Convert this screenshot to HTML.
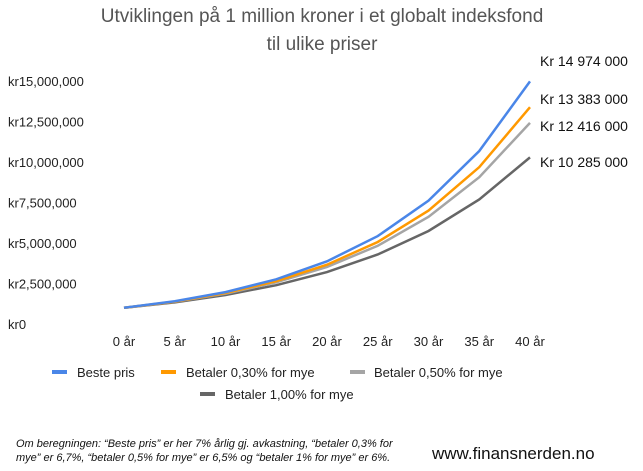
<!DOCTYPE html>
<html><head><meta charset="utf-8"><style>
body{margin:0;background:#fff;width:643px;height:466px;overflow:hidden;font-family:"Liberation Sans",Arial,sans-serif}
svg text{font-family:"Liberation Sans",Arial,sans-serif}
</style></head><body>
<svg id="c" width="643" height="466">
<text x="322" y="22" text-anchor="middle" font-size="19" fill="#555">Utviklingen på 1 million kroner i et globalt indeksfond</text>
<text x="322" y="50" text-anchor="middle" font-size="19" fill="#555">til ulike priser</text>
<g id="yax"></g><g id="xax"></g><g id="lines"></g><g id="ann"></g>
<g font-size="13" fill="#222">
<rect x="52" y="370" width="15" height="4" fill="#4a86e8"/><text x="77" y="377">Beste pris</text>
<rect x="161" y="370" width="15" height="4" fill="#ff9900"/><text x="186" y="377">Betaler 0,30% for mye</text>
<rect x="350" y="370" width="15" height="4" fill="#a5a5a5"/><text x="374" y="377">Betaler 0,50% for mye</text>
<rect x="200" y="392" width="15" height="4" fill="#666"/><text x="225" y="399">Betaler 1,00% for mye</text>
</g>
<text x="16" y="447" font-size="11" font-style="italic" fill="#111">Om beregningen: “Beste pris” er her 7% årlig gj. avkastning, “betaler 0,3% for</text>
<text x="16" y="461" font-size="11" font-style="italic" fill="#111">mye” er 6,7%, “betaler 0,5% for mye” er 6,5% og “betaler 1% for mye” er 6%.</text>
<text x="432" y="459" font-size="17" fill="#111">www.finansnerden.no</text>
</svg>
<script>
const categories=["0 år","5 år","10 år","15 år","20 år","25 år","30 år","35 år","40 år"];
const seriesNames=["Beste pris","Betaler 0,30% for mye","Betaler 0,50% for mye","Betaler 1,00% for mye"];
const best=[1000000,1402552,1967151,2759032,3869684,5427433,7612255,10676581,14974458];
const p030=[1000000,1383000,1913000,2646000,3660000,5062000,7001000,9682000,13383000];
const p050=[1000000,1370000,1877000,2572000,3524000,4828000,6614000,9062000,12416000];
const p100=[1000000,1338000,1791000,2397000,3207000,4292000,5743000,7686000,10285000];
const yTicks=[0,2500000,5000000,7500000,10000000,12500000,15000000];
const yTickLabels=["kr0","kr2,500,000","kr5,000,000","kr7,500,000","kr10,000,000","kr12,500,000","kr15,000,000"];
const endLabels=["Kr 14 974 000","Kr 13 383 000","Kr 12 416 000","Kr 10 285 000"];
const colors=["#4a86e8","#ff9900","#a5a5a5","#666666"];
const NS="http://www.w3.org/2000/svg";
const x=i=>124+i*(530-124)/(categories.length-1);
const y=v=>324-v/15000000*(324-81);
function mk(t,a,p){const e=document.createElementNS(NS,t);for(const k in a)e.setAttribute(k,a[k]);p.appendChild(e);return e;}
const yax=document.getElementById('yax');
yTicks.forEach((v,i)=>{const t=mk('text',{x:8,y:y(v)+5,'font-size':13,fill:'#222'},yax);t.textContent=yTickLabels[i];

});
const xax=document.getElementById('xax');
categories.forEach((c,i)=>{const t=mk('text',{x:x(i),y:346,'font-size':13,fill:'#222','text-anchor':'middle'},xax);t.textContent=c;

});
const lines=document.getElementById('lines');
const all=[best,p030,p050,p100];
for(let s=3;s>=0;s--){const d=all[s].map((v,i)=>(i?'L':'M')+x(i)+' '+y(v)).join(' ');
const p=mk('path',{d:d,fill:'none',stroke:colors[s],'stroke-width':2.5},lines);

}
const ann=document.getElementById('ann');
const annY=[66,104,131,167];
endLabels.forEach((l,i)=>{const t=mk('text',{x:540,y:annY[i],'font-size':14,fill:'#111'},ann);t.textContent=l;

});
</script>
</body></html>
